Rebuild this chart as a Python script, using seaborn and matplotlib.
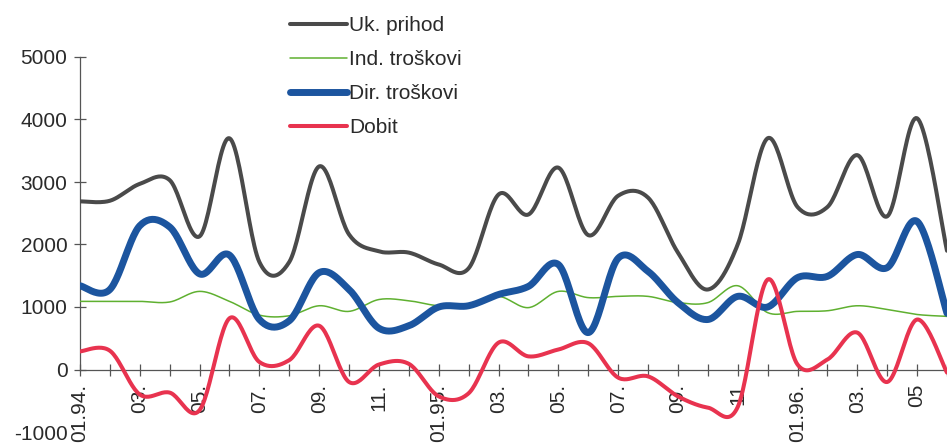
import numpy as np
import pandas as pd
import matplotlib
matplotlib.use("Agg")
import matplotlib.pyplot as plt
import seaborn as sns

# ---- data ----
month_labels = ["01.94.", "", "03.", "", "05.", "", "07.", "", "09.", "", "11.", "",
                "01.95.", "", "03.", "", "05.", "", "07.", "", "09.", "", "11", "",
                "01.96.", "", "03.", "", "05", ""]
uk_prihod = [2690, 2700, 2970, 3030, 2130, 3700, 1720, 1720, 3250, 2160, 1890, 1870,
             1680, 1620, 2800, 2480, 3230, 2150, 2780, 2750, 1870, 1280, 2000, 3700,
             2600, 2600, 3430, 2450, 4020, 1900]
ind_troskovi = [1090, 1090, 1090, 1080, 1250, 1090, 870, 860, 1020, 930, 1120, 1100,
                1020, 1040, 1170, 990, 1250, 1150, 1170, 1170, 1070, 1070, 1340, 910,
                930, 940, 1020, 960, 880, 850]
dir_troskovi = [1340, 1280, 2300, 2280, 1530, 1830, 800, 780, 1550, 1280, 660, 700,
                1000, 1020, 1200, 1330, 1680, 590, 1780, 1570, 1070, 800, 1170, 1000,
                1470, 1490, 1840, 1630, 2370, 900]
dobit = [290, 300, -400, -370, -650, 820, 120, 150, 700, -200, 80, 90,
         -430, -380, 430, 210, 320, 420, -130, -110, -430, -610, -600, 1440,
         80, 160, 590, -200, 800, -50]

series_names = ["Uk. prihod", "Ind. troškovi", "Dir. troškovi", "Dobit"]
series_values = [uk_prihod, ind_troskovi, dir_troskovi, dobit]
colors = ["#4a4a4a", "#5fb030", "#1c559f", "#e8334f"]
widths = [2.9, 1.1, 5.0, 2.9]


def smooth(y, n=24):
    """Excel-like smoothed line: cubic Bezier with Catmull-Rom tangents."""
    y = np.asarray(y, dtype=float)
    x = np.arange(len(y), dtype=float)
    xs, ys = [], []
    m = len(y)
    for i in range(m - 1):
        i0, i2, i3 = max(i - 1, 0), i + 1, min(i + 2, m - 1)
        p0 = np.array([x[i], y[i]])
        p3 = np.array([x[i2], y[i2]])
        c1 = p0 + (p3 - np.array([x[i0], y[i0]])) / 6.0
        c2 = p3 - (np.array([x[i3], y[i3]]) - p0) / 6.0
        t = np.linspace(0, 1, n, endpoint=(i == m - 2))
        pts = ((1 - t) ** 3)[:, None] * p0 + (3 * (1 - t) ** 2 * t)[:, None] * c1 \
            + (3 * (1 - t) * t ** 2)[:, None] * c2 + (t ** 3)[:, None] * p3
        xs.append(pts[:, 0]); ys.append(pts[:, 1])
    return np.concatenate(xs), np.concatenate(ys)


sns.set_theme(style="white")
plt.rcParams["font.family"] = ["Liberation Sans", "DejaVu Sans"]
plt.rcParams["text.color"] = "#2a2a2a"

fig = plt.figure(figsize=(9.47, 4.44), dpi=100)
W, H = 947, 444
x0_px, x_step = 80, 30.05
left = x0_px / W
ax = fig.add_axes([left, (H - 432) / H, 1 - left, (432 - 57) / H])

handles = []
for k, (name, vals, col, lw) in enumerate(zip(series_names, series_values, colors, widths)):
    xs, ys = smooth(vals)
    df = pd.DataFrame({"x": xs, "y": ys})
    sns.lineplot(data=df, x="x", y="y", ax=ax, color=col, linewidth=lw,
                 sort=False, estimator=None, zorder=3 + k)
    handles.append(ax.get_lines()[-1])

ax.set_xlim(0, (W - x0_px) / x_step)
ax.set_ylim(-1000, 5000)
ax.set_xlabel("")
ax.set_ylabel("")

ax.set_yticks(range(-1000, 5001, 1000))
ax.set_yticklabels([str(v) for v in range(-1000, 5001, 1000)])
ax.set_xticks(range(len(month_labels)))
ax.set_xticklabels(month_labels)

for s in ["top", "right"]:
    ax.spines[s].set_visible(False)
ax.spines["bottom"].set_position(("data", 0))
ax.spines["left"].set_bounds(0, 5000)
for s in ["left", "bottom"]:
    ax.spines[s].set_color("#555555")
    ax.spines[s].set_linewidth(0.9)
    ax.spines[s].set_zorder(2)

ax.tick_params(axis="both", direction="inout", length=8, width=0.9, color="#555555",
               labelsize=15, labelcolor="#2a2a2a", bottom=True, left=True)
ax.tick_params(axis="y", pad=5)
ax.tick_params(axis="x", pad=6, labelrotation=90)
for lab in ax.get_xticklabels():
    lab.set_ha("center")
    lab.set_va("top")
ax.yaxis.get_major_ticks()[0].tick1line.set_visible(False)

leg = fig.legend(handles, series_names, loc="upper left",
                 bbox_to_anchor=(290 / W, (H - 16) / H), frameon=False,
                 fontsize=15, handlelength=2.75, handletextpad=0.1,
                 labelspacing=0.72, borderpad=0, borderaxespad=0)

fig.savefig("out.png", dpi=100, facecolor="white")
